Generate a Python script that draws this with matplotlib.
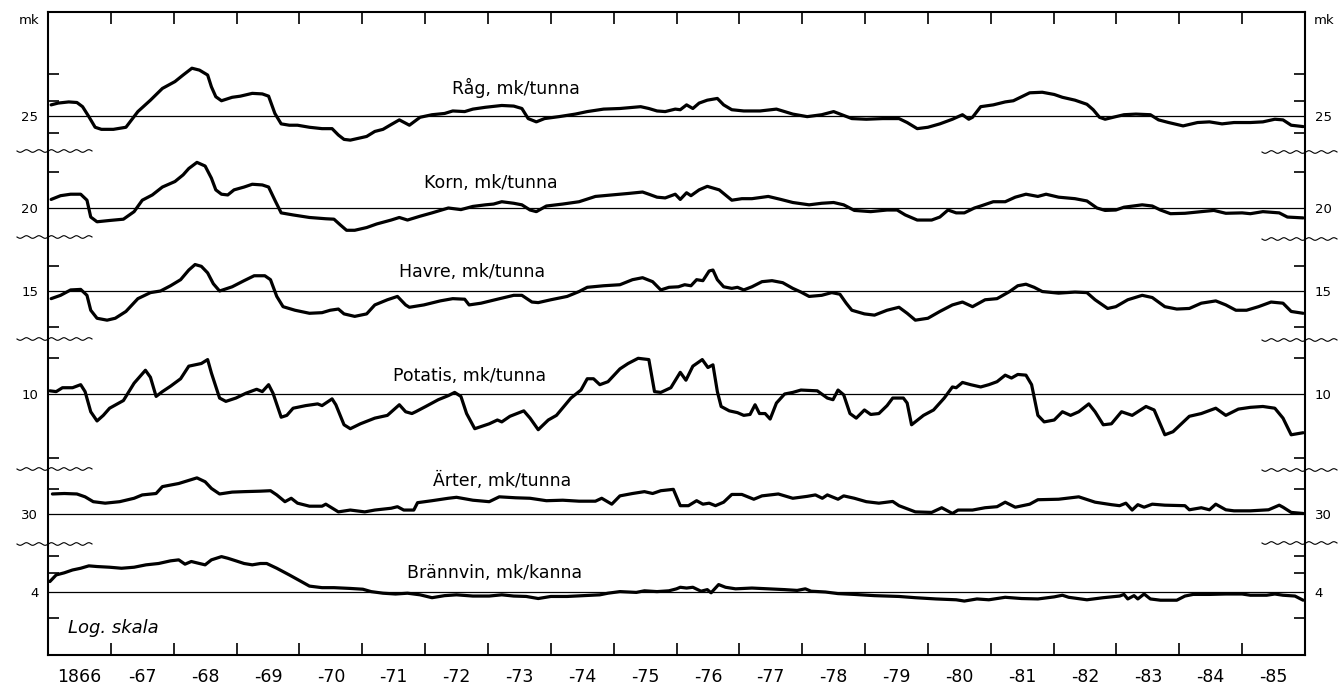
import numpy as np
import matplotlib
matplotlib.use("Agg")
import matplotlib.pyplot as plt
from matplotlib.transforms import blended_transform_factory

plt.rcParams['font.family'] = ['DejaVu Sans']

# ---------------- data ----------------
# time = years since 1 Jan 1866 ; prices in mk (log scale)
year_labels = ["1866", "-67", "-68", "-69", "-70", "-71", "-72", "-73", "-74", "-75",
               "-76", "-77", "-78", "-79", "-80", "-81", "-82", "-83", "-84", "-85"]

series_names = ["Råg, mk/tunna", "Korn, mk/tunna", "Havre, mk/tunna",
                "Potatis, mk/tunna", "Ärter, mk/tunna", "Brännvin, mk/kanna"]
ref_values = [25, 20, 15, 10, 30, 4]
ref_labels = ["25", "20", "15", "10", "30", "4"]
tick_values = [[32.5, 27.5, 22.5], [25], [17.5, 12], [12.5], [42.5, 35], [5, 4.5, 3.4]]

rag_t = [0.05, 0.16, 0.33, 0.46, 0.55, 0.65, 0.75, 0.85, 1.04, 1.24, 1.43, 1.63, 1.82, 2.02, 2.15,
         2.29, 2.41, 2.54, 2.60, 2.67, 2.76, 2.93, 3.06, 3.25, 3.41, 3.51, 3.61, 3.71, 3.84, 3.97,
         4.16, 4.36, 4.52, 4.62, 4.71, 4.81, 5.07, 5.20, 5.33, 5.46, 5.59, 5.69, 5.75, 5.92, 6.11,
         6.31, 6.44, 6.63, 6.76, 6.96, 7.22, 7.41, 7.54, 7.64, 7.77, 7.90, 8.13, 8.39, 8.58, 8.84,
         9.10, 9.43, 9.56, 9.69, 9.82, 9.98, 10.06, 10.16, 10.26, 10.36, 10.49, 10.65, 10.75, 10.88,
         11.07, 11.33, 11.59, 11.72, 11.85, 12.08, 12.31, 12.50, 12.63, 12.79, 13.02, 13.28, 13.54,
         13.67, 13.83, 14.00, 14.19, 14.39, 14.55, 14.65, 14.71, 14.84, 15.04, 15.23, 15.36, 15.62,
         15.82, 16.01, 16.14, 16.34, 16.53, 16.63, 16.73, 16.82, 16.99, 17.12, 17.31, 17.54, 17.67,
         17.83, 18.06, 18.29, 18.48, 18.68, 18.87, 19.13, 19.33, 19.52, 19.65, 19.78, 19.97]
rag_v = [26.8, 27.1, 27.3, 27.2, 26.5, 24.9, 23.3, 23.0, 23.0, 23.3, 25.7, 27.6, 29.7, 31.0, 32.3,
         33.7, 33.3, 32.3, 30.0, 28.2, 27.5, 28.1, 28.3, 28.8, 28.7, 28.3, 25.4, 23.8, 23.6, 23.6,
         23.3, 23.1, 23.1, 22.2, 21.6, 21.5, 22.0, 22.7, 23.0, 23.7, 24.4, 23.9, 23.6, 24.8, 25.2,
         25.4, 25.8, 25.7, 26.1, 26.4, 26.7, 26.6, 26.2, 24.6, 24.1, 24.6, 24.9, 25.3, 25.7, 26.1,
         26.2, 26.5, 26.2, 25.8, 25.7, 26.1, 26.0, 26.8, 26.2, 27.1, 27.6, 27.9, 26.8, 26.0,
         25.8, 25.8, 26.1, 25.7, 25.3, 24.9, 25.2, 25.7, 25.2, 24.6, 24.5, 24.6, 24.6,
         24.0, 23.1, 23.3, 23.8, 24.5, 25.2, 24.5, 24.8, 26.5, 26.8, 27.3, 27.5, 28.9,
         29.0, 28.6, 28.1, 27.6, 26.9, 26.0, 24.8, 24.5, 24.9, 25.2, 25.3, 25.2, 24.4,
         24.0, 23.5, 24.0, 24.1, 23.8, 24.0, 24.0, 24.1, 24.5, 24.4, 23.6, 23.4]

korn_t = [0.05, 0.20, 0.36, 0.52, 0.62, 0.68, 0.78, 0.98, 1.20, 1.37, 1.50, 1.66, 1.82, 2.02, 2.15,
          2.24, 2.37, 2.50, 2.60, 2.67, 2.76, 2.86, 2.96, 3.12, 3.25, 3.41, 3.51, 3.61, 3.71, 3.90,
          4.16, 4.42, 4.55, 4.65, 4.75, 4.88, 5.07, 5.23, 5.46, 5.59, 5.72, 5.92, 6.11, 6.37, 6.57,
          6.76, 6.96, 7.09, 7.22, 7.41, 7.54, 7.67, 7.77, 7.93, 8.19, 8.45, 8.71, 8.97, 9.23, 9.46,
          9.56, 9.69, 9.82, 9.98, 10.06, 10.16, 10.23, 10.36, 10.49, 10.68, 10.88, 11.04, 11.20,
          11.46, 11.66, 11.85, 12.11, 12.31, 12.50, 12.66, 12.83, 13.09, 13.35, 13.51, 13.64, 13.83,
          14.06, 14.19, 14.32, 14.45, 14.58, 14.74, 14.84, 15.04, 15.23, 15.39, 15.56, 15.75, 15.88,
          16.08, 16.34, 16.53, 16.69, 16.82, 16.99, 17.12, 17.41, 17.57, 17.70, 17.86, 18.09, 18.35,
          18.55, 18.74, 19.00, 19.13, 19.33, 19.59, 19.72, 19.97]
korn_v = [21.1, 21.6, 21.8, 21.8, 21.0, 18.9, 18.35, 18.5, 18.65, 19.55, 21.0, 21.7, 22.8, 23.6, 24.6,
          25.6, 26.6, 26.0, 24.1, 22.4, 21.8, 21.7, 22.4, 22.8, 23.2, 23.1, 22.8, 21.0, 19.4, 19.15,
          18.85, 18.7, 18.65, 18.0, 17.4, 17.4, 17.7, 18.1, 18.55, 18.85, 18.55, 19.0, 19.4, 20.0, 19.8,
          20.2, 20.4, 20.5, 20.8, 20.6, 20.4, 19.75, 19.55, 20.25, 20.5, 20.8, 21.5, 21.7, 21.9, 22.1,
          21.8, 21.4, 21.3, 21.8, 21.1, 22.0, 21.6, 22.4, 22.9, 22.4, 21.0, 21.2, 21.2,
          21.5, 21.1, 20.7, 20.4, 20.6, 20.7, 20.4, 19.7, 19.55, 19.75, 19.75, 19.15, 18.55,
          18.55, 18.9, 19.75, 19.4, 19.4, 20.0, 20.25, 20.8, 20.8, 21.4, 21.8, 21.5, 21.8,
          21.4, 21.2, 20.9, 20.0, 19.7, 19.75, 20.1, 20.4, 20.25, 19.75, 19.3, 19.35, 19.55,
          19.7, 19.35, 19.4, 19.3, 19.55, 19.4, 18.9, 18.8]

havre_t = [0.05, 0.20, 0.36, 0.52, 0.62, 0.68, 0.78, 0.94, 1.07, 1.24, 1.43, 1.63, 1.79, 1.95, 2.11,
           2.24, 2.34, 2.44, 2.54, 2.63, 2.73, 2.93, 3.12, 3.28, 3.45, 3.54, 3.64, 3.74, 3.93, 4.16,
           4.36, 4.49, 4.62, 4.71, 4.88, 5.07, 5.20, 5.40, 5.56, 5.69, 5.75, 5.98, 6.24, 6.44, 6.63,
           6.70, 6.89, 7.15, 7.41, 7.54, 7.70, 7.80, 8.00, 8.26, 8.45, 8.58, 8.84, 9.10, 9.30, 9.46,
           9.62, 9.75, 9.88, 10.03, 10.13, 10.23, 10.32, 10.42, 10.52, 10.58, 10.65, 10.75, 10.88,
           10.97, 11.07, 11.20, 11.36, 11.52, 11.69, 11.85, 11.98, 12.11, 12.31, 12.47, 12.60, 12.70,
           12.79, 12.99, 13.15, 13.35, 13.54, 13.67, 13.80, 14.00, 14.19, 14.39, 14.55, 14.71, 14.91,
           15.10, 15.30, 15.43, 15.56, 15.69, 15.82, 16.08, 16.34, 16.53, 16.66, 16.86, 16.99, 17.18,
           17.41, 17.57, 17.77, 17.96, 18.16, 18.35, 18.58, 18.74, 18.90, 19.07, 19.26, 19.46, 19.65,
           19.78, 19.97]
havre_v = [14.3, 14.6, 15.1, 15.15, 14.6, 13.3, 12.65, 12.5, 12.65, 13.2, 14.3, 14.85, 15.0, 15.5, 16.1,
           17.1, 17.7, 17.5, 16.8, 15.7, 15.0, 15.4, 16.0, 16.5, 16.5, 16.1, 14.5, 13.6, 13.3, 13.05,
           13.1, 13.3, 13.4, 13.0, 12.8, 13.0, 13.75, 14.2, 14.5, 13.75, 13.55, 13.75, 14.1, 14.3, 14.25,
           13.75, 13.9, 14.25, 14.6, 14.6, 14.0, 13.95, 14.2, 14.5, 14.95, 15.35, 15.5, 15.6, 16.1, 16.3,
           15.9, 15.1, 15.35, 15.4, 15.6, 15.5, 16.1, 16.0, 17.0, 17.1, 16.1, 15.4, 15.25,
           15.35, 15.1, 15.4, 15.9, 16.0, 15.8, 15.25, 14.9, 14.5, 14.6, 14.85, 14.7, 13.9,
           13.3, 13.0, 12.9, 13.3, 13.55, 13.05, 12.5, 12.65, 13.2, 13.75, 14.0, 13.6, 14.2,
           14.3, 14.95, 15.5, 15.65, 15.35, 14.95, 14.8, 14.9, 14.85, 14.2, 13.45, 13.6, 14.2,
           14.6, 14.4, 13.6, 13.4, 13.45, 13.9, 14.1, 13.75, 13.3, 13.3, 13.6, 14.0, 13.9,
           13.2, 13.05]

potatis_t = [0.03, 0.13, 0.23, 0.39, 0.52, 0.59, 0.68, 0.78, 0.88, 0.98, 1.20, 1.37, 1.55, 1.63, 1.72,
             1.82, 1.95, 2.11, 2.24, 2.44, 2.54, 2.60, 2.73, 2.83, 2.99, 3.15, 3.32, 3.41, 3.51, 3.58,
             3.71, 3.80, 3.90, 4.10, 4.29, 4.36, 4.52, 4.58, 4.71, 4.81, 4.97, 5.20, 5.40, 5.59, 5.69,
             5.79, 5.85, 6.01, 6.21, 6.37, 6.47, 6.57, 6.66, 6.79, 7.02, 7.15, 7.22, 7.35, 7.57, 7.67,
             7.80, 7.96, 8.09, 8.32, 8.48, 8.58, 8.68, 8.78, 8.91, 9.10, 9.23, 9.39, 9.56, 9.65, 9.75,
             9.91, 10.06, 10.15, 10.26, 10.41, 10.50, 10.58, 10.65, 10.71, 10.84, 10.97, 11.07, 11.17,
             11.25, 11.32, 11.41, 11.49, 11.59, 11.72, 11.85, 11.98, 12.24, 12.40, 12.49, 12.57, 12.66,
             12.76, 12.86, 12.99, 13.09, 13.22, 13.35, 13.44, 13.61, 13.67, 13.74, 13.93, 14.09, 14.26,
             14.39, 14.45, 14.55, 14.68, 14.84, 14.97, 15.10, 15.23, 15.33, 15.43, 15.56, 15.65, 15.75,
             15.85, 16.01, 16.14, 16.27, 16.40, 16.56, 16.66, 16.79, 16.92, 17.08, 17.25, 17.47, 17.60,
             17.77, 17.90, 18.16, 18.35, 18.58, 18.74, 18.94, 19.13, 19.33, 19.52, 19.65, 19.78, 19.97]
potatis_v = [10.2, 10.15, 10.4, 10.4, 10.6, 10.15, 8.95, 8.45, 8.75, 9.15, 9.6, 10.7, 11.6, 11.1, 9.85,
             10.15, 10.5, 11.0, 11.9, 12.1, 12.4, 11.4, 9.75, 9.55, 9.75, 10.05, 10.3, 10.15, 10.6, 10.05,
             8.65, 8.75, 9.15, 9.3, 9.4, 9.3, 9.7, 9.35, 8.25, 8.05, 8.3, 8.6, 8.75, 9.35, 8.95,
             8.85, 8.95, 9.25, 9.65, 9.9, 10.1, 9.85, 8.85, 8.05, 8.3, 8.5, 8.4, 8.7, 9.0, 8.6,
             8.0, 8.5, 8.75, 9.75, 10.25, 11.0, 11.0, 10.6, 10.8, 11.7, 12.1, 12.5, 12.4, 10.15, 10.1,
             10.4, 11.45, 10.9, 11.9, 12.4, 11.8, 12.0, 10.15, 9.25, 9.0, 8.9, 8.75, 8.8,
             9.35, 8.85, 8.85, 8.55, 9.45, 10.0, 10.1, 10.25, 10.2, 9.75, 9.65, 10.25, 9.95,
             8.85, 8.6, 9.05, 8.8, 8.85, 9.3, 9.75, 9.75, 9.45, 8.25, 8.75, 9.05, 9.75,
             10.45, 10.4, 10.75, 10.6, 10.45, 10.6, 10.8, 11.25, 11.05, 11.3, 11.25, 10.6, 8.75,
             8.4, 8.5, 8.95, 8.75, 8.95, 9.4, 8.95, 8.25, 8.3, 8.95, 8.75, 9.25, 9.05,
             7.75, 7.9, 8.7, 8.85, 9.15, 8.75, 9.1, 9.2, 9.25, 9.15, 8.6, 7.75, 7.85]

arter_t = [0.07, 0.26, 0.46, 0.59, 0.72, 0.91, 1.14, 1.37, 1.50, 1.72, 1.82, 2.08, 2.37, 2.50, 2.60,
           2.73, 2.93, 3.12, 3.38, 3.54, 3.64, 3.77, 3.87, 3.97, 4.16, 4.36, 4.42, 4.62, 4.81, 5.04,
           5.20, 5.46, 5.56, 5.66, 5.82, 5.88, 6.11, 6.37, 6.50, 6.76, 7.02, 7.18, 7.44, 7.67, 7.93,
           8.19, 8.45, 8.71, 8.81, 8.97, 9.10, 9.30, 9.49, 9.62, 9.75, 9.95, 10.06, 10.19, 10.32,
           10.42, 10.52, 10.62, 10.75, 10.88, 11.04, 11.23, 11.36, 11.62, 11.85, 12.08, 12.21, 12.32,
           12.40, 12.57, 12.66, 12.83, 13.02, 13.22, 13.44, 13.54, 13.80, 14.06, 14.22, 14.39, 14.48,
           14.71, 14.91, 15.10, 15.23, 15.39, 15.62, 15.75, 16.08, 16.40, 16.66, 16.92, 17.05, 17.15,
           17.25, 17.34, 17.44, 17.57, 17.77, 18.09, 18.16, 18.35, 18.48, 18.58, 18.74, 18.87, 19.13,
           19.42, 19.59, 19.65, 19.78, 19.97]
arter_v = [34.0, 34.1, 34.0, 33.4, 32.4, 32.1, 32.4, 33.1, 33.8, 34.1, 35.6, 36.3, 37.6, 36.7, 35.2,
           34.0, 34.4, 34.5, 34.6, 34.7, 33.8, 32.4, 33.1, 32.1, 31.5, 31.5, 31.9, 30.4, 30.75, 30.4,
           30.75, 31.1, 31.4, 30.75, 30.75, 32.2, 32.6, 33.1, 33.3, 32.7, 32.4, 33.4, 33.2, 33.1, 32.6,
           32.7, 32.5, 32.5, 33.1, 31.9, 33.6, 34.1, 34.5, 34.1, 34.7, 35.0, 31.6, 31.6, 32.6,
           31.9, 32.1, 31.6, 32.3, 33.9, 33.9, 32.9, 33.6, 34.0, 33.1, 33.5, 33.8, 33.1,
           33.8, 32.9, 33.6, 33.1, 32.4, 32.1, 32.45, 31.6, 30.4, 30.3, 31.2, 30.1, 30.75,
           30.75, 31.2, 31.4, 32.3, 31.3, 31.9, 32.8, 32.9, 33.4, 32.3, 31.8, 31.6, 32.1,
           30.75, 31.8, 31.3, 31.9, 31.7, 31.6, 30.8, 31.2, 30.8, 31.9, 30.8, 30.6, 30.6,
           30.8, 31.7, 31.3, 30.3, 30.1]

brannvin_t = [0.03, 0.13, 0.26, 0.39, 0.52, 0.65, 0.78, 0.98, 1.17, 1.37, 1.56, 1.76, 1.95, 2.08, 2.18,
              2.28, 2.41, 2.50, 2.60, 2.76, 2.86, 2.99, 3.12, 3.25, 3.38, 3.48, 3.64, 3.84, 4.03, 4.16,
              4.36, 4.55, 4.81, 5.01, 5.14, 5.33, 5.53, 5.72, 5.92, 6.11, 6.31, 6.50, 6.76, 7.02, 7.22,
              7.41, 7.61, 7.80, 8.00, 8.26, 8.52, 8.78, 8.91, 9.10, 9.36, 9.49, 9.69, 9.88, 10.00, 10.06,
              10.16, 10.26, 10.39, 10.49, 10.55, 10.67, 10.78, 10.94, 11.20, 11.46, 11.72, 11.92, 12.05,
              12.14, 12.37, 12.57, 12.83, 13.15, 13.54, 13.80, 14.13, 14.45, 14.58, 14.78, 14.97, 15.23,
              15.49, 15.75, 16.01, 16.14, 16.24, 16.53, 16.79, 17.05, 17.12, 17.18, 17.28, 17.34, 17.44,
              17.54, 17.70, 17.96, 18.09, 18.22, 18.48, 18.74, 19.00, 19.13, 19.39, 19.52, 19.65, 19.84,
              19.97]
brannvin_v = [4.27, 4.45, 4.51, 4.59, 4.64, 4.71, 4.69, 4.67, 4.64, 4.67, 4.74, 4.78, 4.86, 4.89, 4.76,
              4.84, 4.78, 4.74, 4.89, 4.99, 4.94, 4.86, 4.78, 4.74, 4.78, 4.78, 4.64, 4.45, 4.27, 4.15,
              4.11, 4.11, 4.09, 4.07, 4.01, 3.97, 3.95, 3.97, 3.93, 3.86, 3.91, 3.93, 3.90, 3.90, 3.93,
              3.90, 3.89, 3.84, 3.89, 3.89, 3.91, 3.93, 3.97, 4.01, 3.99, 4.03, 4.01, 4.03, 4.08, 4.12,
              4.10, 4.12, 4.02, 4.06, 3.98, 4.19, 4.12, 4.08, 4.10, 4.08, 4.06, 4.04, 4.08,
              4.02, 4.00, 3.96, 3.94, 3.91, 3.89, 3.86, 3.83, 3.81, 3.78, 3.83, 3.81, 3.87,
              3.84, 3.83, 3.88, 3.92, 3.87, 3.81, 3.86, 3.90, 3.94, 3.83, 3.91, 3.83, 3.95,
              3.83, 3.80, 3.80, 3.90, 3.94, 3.94, 3.95, 3.95, 3.92, 3.92, 3.95, 3.92, 3.90,
              3.80]

all_t = [rag_t, korn_t, havre_t, potatis_t, arter_t, brannvin_t]
all_v = [rag_v, korn_v, havre_v, potatis_v, arter_v, brannvin_v]

# ---------------- layout (pixel rows of the drawing) ----------------
W, H = 1340, 690
X0, X1, Y0, Y1 = 48, 1305, 12, 655          # axes box in pixels
START_YEAR, N_YEARS = 1866, 20
PX_PER_YEAR = (X1 - X0) / N_YEARS
S = 160.0                                    # pixels per unit of ln(price)
base_rows = [116, 208, 291, 394, 514, 592]   # row of each reference line
title_px = [(516, 88), (491, 183), (472, 272), (470, 376), (502, 481), (495, 573)]
break_rows_left = [151, 237, 339, 469, 544]
break_rows_right = [152, 239, 340, 470, 543]


def px_to_year(px):
    return START_YEAR + (np.asarray(px) - X0) / PX_PER_YEAR


def row_of(v, ref, base):
    return base - S * np.log(np.asarray(v, dtype=float) / ref)


fig = plt.figure(figsize=(W / 100, H / 100), dpi=100)
fig.patch.set_facecolor('white')
ax = fig.add_axes([X0 / W, 1 - Y1 / H, (X1 - X0) / W, (Y1 - Y0) / H])
ax.set_xlim(START_YEAR, START_YEAR + N_YEARS)
ax.set_ylim(Y1, Y0)
for sp in ax.spines.values():
    sp.set_linewidth(1.5)

# reference lines and series
for t, v, ref, base in zip(all_t, all_v, ref_values, base_rows):
    ax.axhline(base, color='black', lw=0.9)
    ax.plot(START_YEAR + np.asarray(t), row_of(v, ref, base), color='black', lw=2.3,
            solid_joinstyle='round', solid_capstyle='round')

# series titles
for name, (px, py) in zip(series_names, title_px):
    ax.text(px_to_year(px), py, name, ha='center', va='center', fontsize=12.5, color='black')

# x ticks
ax.set_xticks(np.arange(START_YEAR + 1, START_YEAR + N_YEARS))
ax.set_xticks(np.arange(N_YEARS) + START_YEAR + 0.5, minor=True)
ax.set_xticklabels([], minor=False)
ax.set_xticklabels(year_labels, minor=True)
ax.tick_params(axis='x', which='major', direction='in', length=8.5, width=1.2,
               top=True, bottom=True, labelbottom=False)
ax.tick_params(axis='x', which='minor', length=0, pad=9, labelsize=12.5)

# y ticks
tick_rows = []
for tv, ref, base in zip(tick_values, ref_values, base_rows):
    tick_rows.extend(row_of(tv, ref, base))
ax.set_yticks(tick_rows)
ax.set_yticklabels([])
ax.set_yticks(base_rows, minor=True)
ax.set_yticklabels(ref_labels, minor=True)
ax.tick_params(axis='y', which='major', direction='in', length=8, width=1.2,
               left=True, right=True, labelleft=False)
ax.tick_params(axis='y', which='minor', length=0, pad=7, labelsize=9.5,
               left=True, right=True, labelleft=True, labelright=True)

# "mk" unit labels
trans = blended_transform_factory(ax.transAxes, ax.transData)
ax.text((29 - X0) / (X1 - X0), 20, "mk", transform=trans, ha='center', va='center', fontsize=9.5)
ax.text((1324 - X0) / (X1 - X0), 20, "mk", transform=trans, ha='center', va='center', fontsize=9.5)

# scale breaks (wavy lines)
def wavy(px0, px1, row):
    xs = np.linspace(px0, px1, 200)
    ys = row + 1.3 * np.sin(2 * np.pi * (xs - px0) / 12.5)
    ax.plot(px_to_year(xs), ys, color='black', lw=0.8, clip_on=False)

for r in break_rows_left:
    wavy(17, 92, r)
for r in break_rows_right:
    wavy(1262, 1337, r)

ax.text(px_to_year(68), 628, "Log. skala", fontsize=13, style='italic', ha='left', va='center')

fig.savefig("out.png", dpi=100, facecolor='white')
